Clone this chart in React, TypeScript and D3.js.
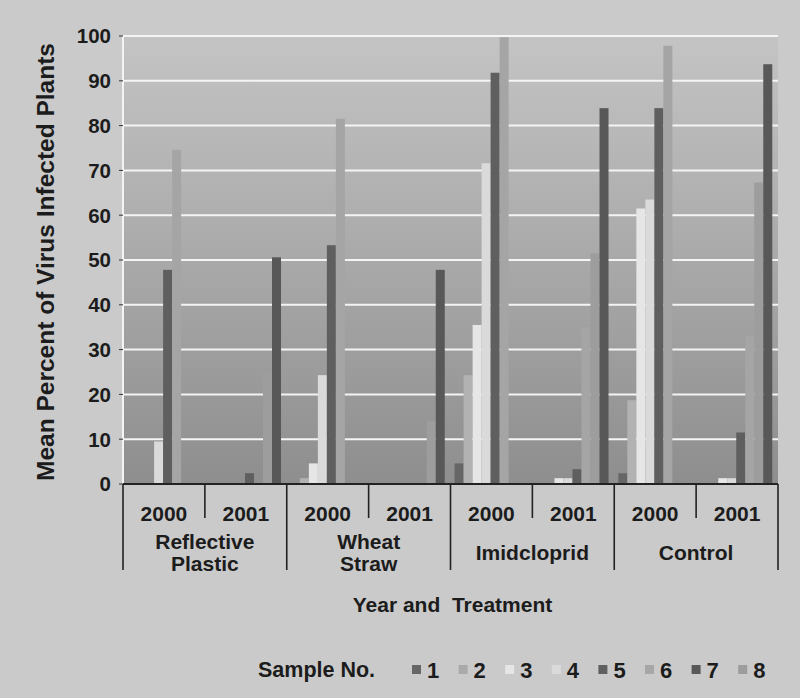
import React from "react";
import * as d3 from "d3";

const treatments = [["Reflective", "Plastic"], ["Wheat", "Straw"], ["Imidcloprid"], ["Control"]];
const years = ["2000", "2001"];
const groupKeys = ["RP2000", "RP2001", "WS2000", "WS2001", "IM2000", "IM2001", "C2000", "C2001"];
const seriesNames = ["1", "2", "3", "4", "5", "6", "7", "8"];

// Mean percent of virus infected plants, per sample, in groupKeys order
const s1 = [0, 0, 0, 0, 4.6, 0, 2.4, 0];
const s2 = [0, 0, 1.3, 0, 24.3, 0, 18.7, 0];
const s3 = [0, 0, 4.6, 0, 35.5, 1.3, 61.5, 1.3];
const s4 = [9.5, 0, 24.3, 0, 71.6, 1.3, 63.5, 1.3];
const s5 = [47.8, 2.4, 53.3, 0, 91.8, 3.3, 83.9, 11.5];
const s6 = [74.6, 0, 81.5, 0, 99.7, 35, 97.8, 33];
const s7 = [0, 25, 0, 14, 0, 51.5, 0, 67.3];
const s8 = [0, 50.6, 0, 47.8, 0, 83.9, 0, 93.7];
const seriesValues = [s1, s2, s3, s4, s5, s6, s7, s8];

const yTicks = [0, 10, 20, 30, 40, 50, 60, 70, 80, 90, 100];

const barColors = ["#666666", "#b2b2b2", "#e6e6e6", "#dadada", "#5f5f5f", "#a5a5a5", "#9d9d9d", "#585858"];
const legendColors = ["#666666", "#aaaaaa", "#e6e6e6", "#dadada", "#5f5f5f", "#a7a7a7", "#585858", "#9d9d9d"];

const W = 800;
const H = 698;
const L = 123, R = 778, T = 36, B = 484;
const FONT = "'Liberation Sans', Arial, Helvetica, sans-serif";
const TXT = "#1c1c1c";

export default function App() {
  const y = d3.scaleLinear().domain([0, 100]).range([B, T]);
  const x0 = d3.scaleBand().domain(groupKeys).range([L, R]);
  const bw = x0.bandwidth();
  const x1 = d3.scaleBand().domain(seriesNames).range([bw * 0.05, bw * 0.93]);
  const tw = bw * 2;

  return (
    <svg width={W} height={H} style={{ position: "absolute", left: 0, top: 0 }} fontFamily={FONT}>
      <defs>
        <linearGradient id="plotbg" x1="0" y1="0" x2="0" y2="1">
          <stop offset="0" stopColor="#c4c4c4" />
          <stop offset="1" stopColor="#8e8e8e" />
        </linearGradient>
      </defs>
      <rect x={0} y={0} width={W} height={H} fill="#cacaca" />
      <rect x={L} y={T} width={R - L} height={B - T} fill="url(#plotbg)" />

      {/* gridlines */}
      {yTicks.filter((t) => t > 0).map((t) => (
        <line key={t} x1={L} x2={R} y1={y(t)} y2={y(t)} stroke="#f4f4f4" strokeWidth={2} />
      ))}

      {/* bars */}
      {groupKeys.map((g, gi) => (
        <g key={g} transform={`translate(${x0(g)},0)`}>
          {seriesNames.map((s, si) => {
            const v = seriesValues[si][gi];
            if (!v) return null;
            return (
              <rect key={s} x={x1(s)} width={x1.bandwidth()} y={y(v)} height={B - y(v)} fill={barColors[si]} />
            );
          })}
        </g>
      ))}

      {/* y axis */}
      <line x1={L} x2={L} y1={T} y2={B} stroke="#f4f4f4" strokeWidth={2} />
      {yTicks.map((t) => (
        <g key={t}>
          <line x1={L - 4} x2={L} y1={y(t)} y2={y(t)} stroke="#333" strokeWidth={1} />
          <text x={111} y={y(t)} dy="0.36em" textAnchor="end" fontSize={20.5} fontWeight="bold" fill={TXT}>
            {t}
          </text>
        </g>
      ))}
      <text
        transform={`translate(54,${(T + B) / 2 + 2}) rotate(-90)`}
        textAnchor="middle"
        fontSize={24.5}
        fontWeight="bold"
        fill={TXT}
      >
        Mean Percent of Virus Infected Plants
      </text>

      {/* x axis */}
      <line x1={L} x2={R} y1={B} y2={B} stroke="#222" strokeWidth={2} />
      {groupKeys.map((g, gi) => {
        const xs = x0(g)!;
        const long = gi % 2 === 0;
        return (
          <line key={g} x1={xs} x2={xs} y1={B} y2={long ? 570 : 518} stroke="#222" strokeWidth={1.6} />
        );
      })}
      <line x1={R} x2={R} y1={B} y2={570} stroke="#222" strokeWidth={1.6} />
      {groupKeys.map((g, gi) => (
        <text key={g} x={x0(g)! + bw / 2} y={521} textAnchor="middle" fontSize={21} fontWeight="bold" fill={TXT}>
          {years[gi % 2]}
        </text>
      ))}
      {treatments.map((lines, ti) => {
        const cx = L + ti * tw + tw / 2;
        return (
          <text key={ti} x={cx} textAnchor="middle" fontSize={21} fontWeight="bold" fill={TXT}>
            {lines.map((ln, li) => (
              <tspan key={li} x={cx} y={lines.length === 1 ? 560 : 549 + li * 22}>
                {ln}
              </tspan>
            ))}
          </text>
        );
      })}
      <text x={(L + R) / 2 + 2} y={612} textAnchor="middle" fontSize={21} fontWeight="bold" fill={TXT} style={{ whiteSpace: "pre" }}>
        {"Year and  Treatment"}
      </text>

      {/* legend */}
      <text x={258} y={677} fontSize={21.5} fontWeight="bold" fill={TXT}>
        Sample No.
      </text>
      {seriesNames.map((s, i) => {
        const lx = 412 + i * 46.6;
        return (
          <g key={s}>
            <rect x={lx} y={665} width={9} height={9} fill={legendColors[i]} />
            <text x={lx + 15} y={678} fontSize={22} fontWeight="bold" fill={TXT}>
              {s}
            </text>
          </g>
        );
      })}
    </svg>
  );
}
